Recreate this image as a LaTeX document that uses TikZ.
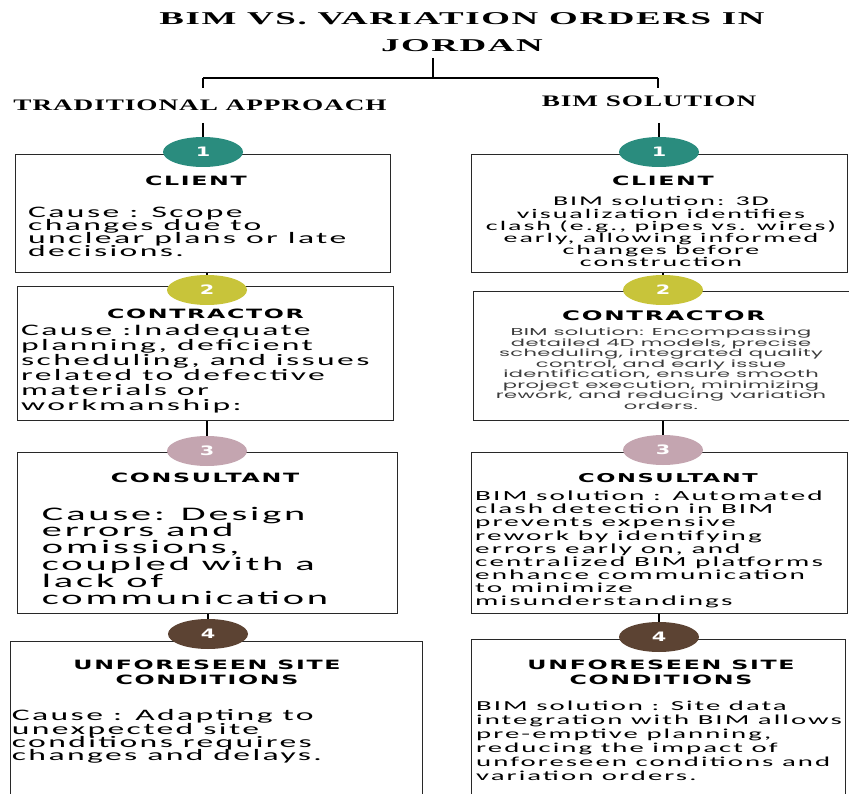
\documentclass[tikz,border=0pt]{standalone}
\usepackage{fontspec}
\usetikzlibrary{shapes.geometric}
\setmainfont{Carlito}
% stretched faces used throughout the chart
\newfontfamily\ttlfont[FakeStretch=2.05,LetterSpace=9]{Liberation Serif}
\newfontfamily\hdfont[FakeStretch=1.7,LetterSpace=6]{Liberation Serif}
\newfontfamily\capfont[FakeStretch=1.85,LetterSpace=13]{DejaVu Sans}
\newfontfamily\numfont[FakeStretch=1.6]{DejaVu Sans}
\newfontfamily\bodyfont[FakeStretch=2.1,LetterSpace=15]{Carlito}
\newfontfamily\geofont[FakeStretch=2.1,LetterSpace=4]{Poppins}
% stacked lines; the first line carries the baseline
\newcommand\leftlines[1]{\vtop{\lineskiplimit=-\maxdimen\lineskip=0pt\halign{##\hfil\cr#1\crcr}}}
\newcommand\centerlines[1]{\vtop{\lineskiplimit=-\maxdimen\lineskip=0pt\halign{\hfil##\hfil\cr#1\crcr}}}
\definecolor{boxline}{RGB}{40,40,40}
\definecolor{teal1}{RGB}{42,140,126}
\definecolor{olive2}{RGB}{200,196,58}
\definecolor{mauve3}{RGB}{196,165,176}
\definecolor{brown4}{RGB}{92,67,51}
\definecolor{softgray}{RGB}{60,60,60}
\begin{document}
\begin{tikzpicture}[x=1pt,y=-1pt,
  box/.style={draw=boxline,line width=1.3pt,inner sep=0,anchor=north west},
  badge/.style={ellipse,minimum width=80pt,minimum height=30pt,inner sep=0,text=white,
    font=\numfont\bfseries\fontsize{13}{13}\selectfont},
  link/.style={line width=2.6pt,black},
  bar/.style={line width=2pt,black},
  boxtitle/.style={inner sep=0,anchor=base,font=\capfont\bfseries\fontsize{12.8}{15.6}\selectfont},
  txt/.style={inner sep=0,anchor=base west},
  ctxt/.style={inner sep=0,anchor=base}]
\clip (0,0) rectangle (849,794);
\fill[white] (0,0) rectangle (849,794);

% heading and split
\node[ctxt,font=\ttlfont\bfseries\fontsize{18}{27}\selectfont] (ttl) at (462,25)
  {\centerlines{BIM VS. VARIATION ORDERS IN\cr JORDAN}};
\coordinate (stemtop) at (433,58);
\coordinate (split) at (433,78);
\coordinate (barL) at (203,78);
\coordinate (barR) at (658,78);
\coordinate (tickL) at (203,88);
\coordinate (tickR) at (658,88);
\draw[link] (stemtop) -- (split);
\draw[bar] (barL) -- (barR);
\draw[link] (barL) -- (tickL);
\draw[link] (barR) -- (tickR);
\node[ctxt,font=\hdfont\bfseries\fontsize{16}{16}\selectfont] (hdL) at (200,111) {TRADITIONAL APPROACH};
\node[ctxt,font=\hdfont\bfseries\fontsize{16}{16}\selectfont] (hdR) at (649,107) {BIM SOLUTION};
\coordinate (dropL) at (203,123);
\coordinate (dropR) at (659,123);

% boxes
\node[box,minimum width=375pt,minimum height=118pt] (bL1) at (15,154) {};
\node[box,minimum width=376pt,minimum height=134pt] (bL2) at (17,286) {};
\node[box,minimum width=380pt,minimum height=161pt] (bL3) at (17,452) {};
\node[box,minimum width=412pt,minimum height=170pt] (bL4) at (10,641) {};
\node[box,minimum width=376pt,minimum height=118pt] (bR1) at (471,154) {};
\node[box,minimum width=385pt,minimum height=129pt] (bR2) at (473,291) {};
\node[box,minimum width=376pt,minimum height=161pt] (bR3) at (471,452) {};
\node[box,minimum width=374pt,minimum height=170pt] (bR4) at (471,639) {};

% numbered badges
\node[badge,fill=teal1] (c1L) at (203,152) {1};
\node[badge,fill=olive2] (c2L) at (207,290) {2};
\node[badge,fill=mauve3] (c3L) at (207,451) {3};
\node[badge,fill=brown4] (c4L) at (208,634) {4};
\node[badge,fill=teal1] (c1R) at (659,152) {1};
\node[badge,fill=olive2] (c2R) at (663,290) {2};
\node[badge,fill=mauve3] (c3R) at (663,450) {3};
\node[badge,fill=brown4] (c4R) at (659,637) {4};

% connectors
\draw[link] (dropL) -- (c1L);
\draw[link] (dropR) -- (c1R);
\draw[link] (bL1.south -| c2L) -- (c2L);
\draw[link] (bL2.south -| c3L) -- (c3L);
\draw[link] (bL3.south -| c4L) -- (c4L);
\draw[link] (bR1.south -| c2R) -- (c2R);
\draw[link] (bR2.south -| c3R) -- (c3R);
\draw[link] (bR3.south -| c4R) -- (c4R);

% box titles
\node[boxtitle] (tL1) at (196,186) {CLIENT};
\node[boxtitle] (tL2) at (205.5,318.5) {CONTRACTOR};
\node[boxtitle] (tL3) at (205,482.7) {CONSULTANT};
\node[boxtitle] (tL4) at (207,669.3) {\centerlines{UNFORESEEN SITE\cr CONDITIONS}};
\node[boxtitle] (tR1) at (663,186) {CLIENT};
\node[boxtitle,font=\capfont\bfseries\fontsize{13.2}{15}\selectfont] (tR2) at (663.7,320.7) {CONTRACTOR};
\node[boxtitle,font=\capfont\bfseries\fontsize{12.2}{15}\selectfont] (tR3) at (668,482.7) {CONSULTANT};
\node[boxtitle] (tR4) at (661,669) {\centerlines{UNFORESEEN SITE\cr CONDITIONS}};

% traditional approach: causes
\node[txt,font=\bodyfont\fontsize{16}{13.1}\selectfont] (xL1) at (28,217.3)
  {\leftlines{Cause : Scope\cr changes due to\cr unclear plans or late\cr decisions.}};
\node[txt,font=\bodyfont\fontsize{16}{14.9}\selectfont] (xL2) at (21,336)
  {\leftlines{Cause :Inadequate\cr planning, deficient\cr scheduling, and issues\cr related to defective\cr materials or\cr workmanship:}};
\node[txt,font=\bodyfont\fontsize{19.2}{16.8}\selectfont] (xL3) at (41.7,520)
  {\leftlines{Cause: Design\cr errors and\cr omissions,\cr coupled with a\cr lack of\cr communication}};
\node[txt,font=\bodyfont\fontsize{16}{13.3}\selectfont] (xL4) at (11.7,720.7)
  {\leftlines{Cause : Adapting to\cr unexpected site\cr conditions requires\cr changes and delays.}};

% BIM solution
\node[ctxt,font=\bodyfont\fontsize{13.3}{12.1}\selectfont] (xR1) at (661,206)
  {\centerlines{BIM solution: 3D\cr visualization identifies\cr clash (e.g., pipes vs. wires)\cr early, allowing informed\cr changes before\cr construction}};
\node[ctxt,text=softgray,font=\geofont\fontsize{10}{10.5}\selectfont] (xR2) at (661,335.7)
  {\centerlines{BIM solution: Encompassing\cr detailed 4D models, precise\cr scheduling, integrated quality\cr control, and early issue\cr identification, ensure smooth\cr project execution, minimizing\cr rework, and reducing variation\cr orders.}};
\node[txt,font=\bodyfont\fontsize{13.9}{13.1}\selectfont] (xR3) at (475,500.7)
  {\leftlines{BIM solution : Automated\cr clash detection in BIM\cr prevents expensive\cr rework by identifying\cr errors early on, and\cr centralized BIM platforms\cr enhance communication\cr to minimize\cr misunderstandings}};
\node[txt,font=\bodyfont\fontsize{13.7}{13.9}\selectfont] (xR4) at (476,710.7)
  {\leftlines{BIM solution : Site data\cr integration with BIM allows\cr pre-emptive planning,\cr reducing the impact of\cr unforeseen conditions and\cr variation orders.}};
\end{tikzpicture}
\end{document}
